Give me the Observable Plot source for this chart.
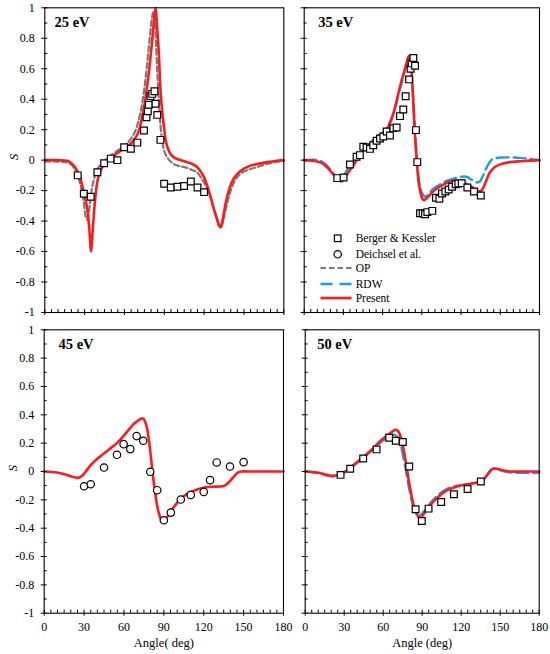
<!DOCTYPE html>
<html>
<head>
<meta charset="utf-8">
<script src="https://cdn.jsdelivr.net/npm/d3@7"></script>
<script src="https://cdn.jsdelivr.net/npm/@observablehq/plot@0.6"></script>
<style>
  body { margin: 0; background: white; }
  #wrap { position: relative; width: 550px; height: 654px; background: white; overflow: hidden; }
  #wrap svg.panel { position: absolute; }
</style>
</head>
<body>
<div id="wrap"></div>
<script>
// ---------- tick values ----------
const xMajor = [0, 30, 60, 90, 120, 150, 180];
const xMinor = [5,10,15,20,25,35,40,45,50,55,65,70,75,80,85,95,100,105,110,115,125,130,135,140,145,155,160,165,170,175];
const yMajor = [-1, -0.8, -0.6, -0.4, -0.2, 0, 0.2, 0.4, 0.6, 0.8, 1];
const yMinor = [-0.9, -0.7, -0.5, -0.3, -0.1, 0.1, 0.3, 0.5, 0.7, 0.9];

// ---------- 25 eV ----------
const present25 = [[0,0],[10,0],[17,-0.004],[20,-0.02],[23,-0.05],[26,-0.1],[28,-0.16],[30,-0.23],[32,-0.32],[33.5,-0.45],[34.9,-0.6],[36,-0.47],[37,-0.35],[38,-0.25],[39.4,-0.15],[41,-0.09],[43,-0.05],[45,-0.025],[47,-0.01],[50,0.015],[54.5,0.045],[58,0.067],[62,0.087],[66,0.12],[69.5,0.165],[72,0.23],[74.6,0.34],[76.5,0.45],[78.3,0.57],[80,0.71],[80.8,0.78],[82,0.9],[83.4,1.0],[84.5,0.88],[85.9,0.7],[87,0.48],[88.4,0.32],[90,0.2],[91,0.13],[93,0.07],[94.7,0.04],[97,0.02],[99.7,0.008],[103,-0.002],[107,-0.013],[111,-0.025],[114.7,-0.045],[117,-0.07],[119.8,-0.11],[122,-0.16],[124.8,-0.24],[127,-0.31],[129.8,-0.39],[131.2,-0.43],[132.3,-0.44],[133.5,-0.41],[134.8,-0.35],[136.5,-0.27],[138.6,-0.2],[141,-0.14],[145,-0.09],[150,-0.055],[155,-0.036],[160,-0.025],[167.5,-0.013],[175,-0.004],[180,0]];
const op25 = [[0,-0.008],[10,-0.01],[17,-0.015],[20,-0.03],[22,-0.05],[24.4,-0.09],[26.5,-0.15],[28.2,-0.22],[29.6,-0.29],[30.8,-0.37],[31.8,-0.39],[32.8,-0.36],[34.4,-0.26],[35.6,-0.18],[36.9,-0.13],[38.5,-0.08],[40.7,-0.045],[44.4,-0.01],[47,0.015],[54.5,0.06],[62,0.11],[67,0.17],[70,0.24],[72,0.31],[74,0.41],[75.8,0.53],[78.3,0.74],[80.8,0.94],[81.6,0.97],[82.5,0.93],[83.4,0.83],[84.6,0.6],[85.9,0.39],[87,0.24],[88.4,0.13],[90,0.06],[92,0.02],[97,-0.025],[102,-0.04],[107,-0.05],[111,-0.065],[114.7,-0.08],[118,-0.12],[122,-0.18],[125,-0.25],[127,-0.31],[129.5,-0.38],[131,-0.42],[132.8,-0.44],[134,-0.41],[136,-0.33],[138,-0.26],[140,-0.2],[142,-0.155],[145,-0.11],[150,-0.075],[155,-0.058],[160,-0.045],[167.5,-0.025],[175,-0.01],[180,-0.005]];
const berger25 = [[24.8,-0.1],[29.4,-0.22],[34.6,-0.24],[39.6,-0.08],[44.7,-0.02],[49.7,0.01],[54.7,0.0],[59.8,0.085],[64.8,0.075],[69.7,0.115],[74.7,0.195],[76.6,0.282],[77.6,0.321],[78.3,0.363],[79.6,0.419],[80.9,0.435],[82.6,0.452],[83.4,0.37],[84.7,0.297],[87.1,0.133],[89.9,-0.155],[94.9,-0.18],[99.9,-0.175],[104.9,-0.17],[110,-0.14],[115,-0.18],[120,-0.21]];

// ---------- 35 eV ----------
const present35 = [[0,0],[8,-0.005],[12.5,-0.015],[16,-0.035],[18.9,-0.06],[21.5,-0.085],[24,-0.11],[26.5,-0.13],[28.3,-0.14],[30.5,-0.125],[33,-0.09],[35.5,-0.06],[38,-0.03],[40.5,0.005],[43,0.04],[47,0.075],[50.8,0.105],[55,0.135],[58.5,0.16],[61,0.18],[63.6,0.21],[66,0.25],[68.7,0.32],[71,0.4],[73.8,0.5],[75.8,0.56],[77.6,0.61],[79,0.66],[80.2,0.685],[81.2,0.67],[82,0.61],[83,0.46],[84,0.28],[85.2,0.1],[86.5,-0.05],[87.5,-0.14],[88.6,-0.2],[89.8,-0.24],[91.1,-0.26],[92.5,-0.258],[94.2,-0.245],[96.5,-0.225],[99.3,-0.2],[104.4,-0.17],[109.5,-0.147],[114.6,-0.135],[119.7,-0.14],[124.8,-0.16],[129.9,-0.185],[132.5,-0.2],[134.5,-0.205],[136,-0.195],[137.6,-0.17],[139.5,-0.13],[141.4,-0.09],[143.5,-0.065],[145.3,-0.048],[150,-0.028],[153,-0.02],[160,-0.01],[165.7,-0.007],[172,-0.003],[180,0]];
const rdw35 = [[0,0],[8,0.003],[12.5,-0.005],[16,-0.025],[20,-0.06],[23.5,-0.1],[26.5,-0.13],[28.5,-0.125],[31.7,-0.08],[36,-0.025],[40.6,0.017],[45,0.06],[50.8,0.115],[55,0.15],[61,0.19],[65,0.24],[68.7,0.32],[72,0.43],[75,0.52],[77,0.6],[79,0.66],[80.2,0.68],[81.5,0.63],[82.7,0.5],[84,0.32],[85.3,0.13],[86.5,-0.02],[87.8,-0.135],[89,-0.19],[90.4,-0.22],[92,-0.237],[93,-0.24],[95,-0.225],[96.8,-0.205],[99,-0.185],[101.9,-0.17],[105.5,-0.152],[109.5,-0.135],[113,-0.125],[117.2,-0.115],[122.3,-0.107],[125,-0.112],[127.4,-0.125],[130,-0.138],[132.5,-0.147],[134.5,-0.14],[136.3,-0.11],[138.2,-0.075],[140.2,-0.037],[142,-0.012],[144,0.007],[147,0.014],[150.4,0.017],[155,0.018],[160.6,0.017],[165,0.015],[170.8,0.01],[175,0.005],[180,0]];
const berger35 = [[25.3,-0.118],[30.1,-0.114],[35.0,-0.028],[40.1,0.022],[42.6,0.033],[45.2,0.088],[47.7,0.083],[50.3,0.074],[52.8,0.098],[55.4,0.127],[58.0,0.142],[60.5,0.155],[63.1,0.188],[65.6,0.162],[68.2,0.21],[70.7,0.214],[73.3,0.289],[75.8,0.333],[77.6,0.42],[80.2,0.53],[81.4,0.6],[82.2,0.635],[83.5,0.67],[84.8,0.62],[85.5,0.197],[86.5,-0.013],[88.6,-0.348],[90.6,-0.348],[92.4,-0.355],[94.2,-0.341],[98.0,-0.333],[100.8,-0.247],[103.4,-0.254],[105.4,-0.219],[108.0,-0.206],[110.5,-0.193],[113.1,-0.175],[115.9,-0.158],[117.9,-0.153],[120.5,-0.151],[124.8,-0.179],[129.9,-0.206],[135.1,-0.232]];

// ---------- 45 eV ----------
const present45 = [[0,0],[9.75,-0.007],[17.25,-0.024],[21,-0.037],[23.5,-0.042],[25.5,-0.045],[28.5,-0.03],[30.5,-0.01],[32.5,0.015],[35,0.045],[37.5,0.07],[40,0.09],[42.5,0.11],[46,0.135],[50,0.165],[54.75,0.2],[57.25,0.225],[60,0.255],[62.25,0.28],[65,0.31],[67.25,0.335],[70,0.355],[72.25,0.37],[74.25,0.375],[75.5,0.36],[77.25,0.31],[78.5,0.24],[79.75,0.146],[81,0.04],[82.25,-0.066],[83.5,-0.15],[84.75,-0.23],[86,-0.285],[87.25,-0.325],[88.5,-0.345],[89.75,-0.35],[91,-0.34],[92.25,-0.325],[94.5,-0.29],[97.25,-0.255],[102.25,-0.196],[107.25,-0.16],[112.25,-0.137],[117.25,-0.12],[124.75,-0.108],[132.25,-0.106],[135,-0.102],[137.25,-0.09],[139,-0.075],[141,-0.054],[143,-0.032],[144.75,-0.014],[146.5,-0.004],[148.5,0],[157,0],[170,0],[180,0]];
const deichsel45 = [[30,-0.104],[35,-0.09],[45,0.028],[54.75,0.118],[59.75,0.193],[64.75,0.158],[69.5,0.25],[74.5,0.217],[79.75,-0.002],[85,-0.132],[90,-0.344],[95.25,-0.29],[102.75,-0.198],[110.25,-0.165],[120,-0.144],[124.75,-0.061],[129.75,0.064],[139.75,0.035],[150,0.066]];

// ---------- 50 eV ----------
const present50 = [[0,0],[9.2,-0.007],[16.9,-0.024],[22,-0.03],[27.2,-0.019],[30,-0.005],[34.9,0.028],[42.6,0.087],[50.3,0.146],[58,0.217],[64.4,0.264],[67.5,0.285],[69.5,0.295],[71,0.29],[72,0.276],[73.5,0.245],[74.6,0.205],[76,0.14],[77.2,0.075],[78.5,0.005],[79.7,-0.066],[81,-0.13],[82.3,-0.196],[83.5,-0.24],[84.9,-0.278],[86.2,-0.305],[87.4,-0.325],[88.5,-0.33],[90,-0.314],[91.5,-0.295],[93.8,-0.267],[96,-0.238],[99,-0.208],[104.1,-0.165],[109.2,-0.132],[116.9,-0.106],[124.6,-0.09],[132.3,-0.078],[135,-0.07],[137.4,-0.054],[139.5,-0.03],[141.3,-0.007],[143.2,0.012],[145.1,0.021],[147.5,0.019],[150.3,0.012],[154,0.005],[158,0],[170,0],[180,0]];
const rdw50 = [[0,0],[9.2,-0.01],[16.9,-0.03],[22,-0.035],[27.2,-0.022],[30,-0.008],[34.9,0.024],[42.6,0.082],[50.3,0.14],[58,0.205],[62,0.235],[65.5,0.255],[67.5,0.26],[69.5,0.255],[71,0.24],[72.5,0.215],[74,0.17],[75.5,0.1],[77,0.03],[78.5,-0.05],[80,-0.12],[81.5,-0.19],[83,-0.245],[84.5,-0.28],[86,-0.305],[87.5,-0.315],[89,-0.305],[91,-0.285],[93.8,-0.255],[96,-0.225],[99,-0.195],[104.1,-0.152],[109.2,-0.122],[116.9,-0.1],[124.6,-0.088],[132.3,-0.078],[135,-0.07],[137.4,-0.055],[139.5,-0.032],[141.3,-0.01],[143.2,0.01],[145.1,0.02],[147.5,0.017],[150.3,0.008],[154,-0.002],[160,-0.008],[170,-0.01],[180,-0.01]];
const berger50 = [[27.2,-0.024],[34.6,0.019],[44.6,0.092],[54.9,0.156],[64.6,0.238],[69.7,0.217],[75.1,0.208],[80,0.035],[84.9,-0.267],[89.7,-0.349],[94.9,-0.262],[104.6,-0.215],[114.4,-0.16],[124.9,-0.123],[135.1,-0.071]];

// ---------- legend entries ----------
const legendLabels = ["Berger & Kessler", "Deichsel et al.", "OP", "RDW", "Present"];

// ---------- styles ----------
const RED = "#ff1a1a", GRAY = "#7a7a7a", BLUE = "#1a9cf0";
const FONT = "'Liberation Serif', 'DejaVu Serif', serif";

const redLine = d => Plot.line(d, {x: p => p[0], y: p => p[1], stroke: RED, strokeWidth: 2.6, curve: "catmull-rom"});
const grayLine = d => Plot.line(d, {x: p => p[0], y: p => p[1], stroke: GRAY, strokeWidth: 2.2, strokeDasharray: "5.5,3", curve: "catmull-rom"});
const blueLine = d => Plot.line(d, {x: p => p[0], y: p => p[1], stroke: BLUE, strokeWidth: 2.4, strokeDasharray: "12,5", curve: "catmull-rom"});
const squares = d => Plot.dot(d, {x: p => p[0], y: p => p[1], symbol: "square", r: 3.8, stroke: "black", strokeWidth: 1.2, fill: "white"});
const circles = d => Plot.dot(d, {x: p => p[0], y: p => p[1], symbol: "circle", r: 3.7, stroke: "black", strokeWidth: 1.2, fill: "white"});

function panel(o) {
  const fw = o.width - o.marginLeft - o.marginRight;
  const fh = o.height - o.marginTop - o.marginBottom;
  const ux = 180 / fw;   // degrees per pixel
  const uy = 2 / fh;     // S units per pixel
  const marks = [
    ...o.marks,
    Plot.frame({stroke: "black", strokeWidth: 1.1}),
    // x ticks: major cross the bottom edge, minor point inwards
    Plot.ruleX(xMajor, {x: d => d, y1: () => -1 - 3 * uy, y2: () => -1 + 3 * uy, stroke: "black", strokeWidth: 1}),
    Plot.ruleX(xMinor, {x: d => d, y1: () => -1, y2: () => -1 + 3 * uy, stroke: "black", strokeWidth: 1}),
    // y ticks
    Plot.ruleY(yMajor, {y: d => d, x1: () => -3 * ux, x2: () => 3 * ux, stroke: "black", strokeWidth: 1}),
    Plot.ruleY(yMinor, {y: d => d, x1: () => 0, x2: () => 3 * ux, stroke: "black", strokeWidth: 1}),
    Plot.text([o.label], {text: d => d, frameAnchor: "top-left", dx: o.labelDx, dy: 15, textAnchor: "start", lineAnchor: "middle", fontWeight: "bold", fontSize: 14.5, fill: "black"})
  ];
  if (o.yLabels) {
    marks.push(Plot.axisY({ticks: yMajor, tickSize: 0, tickPadding: 10, tickFormat: d => String(d), fontSize: 12}));
    marks.push(Plot.text(["S"], {text: d => d, frameAnchor: "left", dx: -31, rotate: -90, fontStyle: "italic", fontSize: 13, lineAnchor: "middle"}));
  }
  if (o.xTitle) {
    marks.push(Plot.axisX({ticks: xMajor, tickSize: 0, tickPadding: 9, tickFormat: d => String(d), fontSize: 12}));
    marks.push(Plot.text([o.xTitle], {text: d => d, frameAnchor: "bottom", dy: 30, lineAnchor: "middle", fontSize: 12.5}));
  }
  const svg = Plot.plot({
    width: o.width, height: o.height,
    marginLeft: o.marginLeft, marginRight: o.marginRight, marginTop: o.marginTop, marginBottom: o.marginBottom,
    x: {domain: [0, 180], axis: null},
    y: {domain: [-1, 1], axis: null},
    style: {fontFamily: FONT, fontSize: "12px", background: "transparent", color: "black", overflow: "visible"},
    marks
  });
  svg.classList.add("panel");
  svg.style.left = o.left + "px";
  svg.style.top = o.top + "px";
  return svg;
}

const wrap = document.getElementById("wrap");

wrap.appendChild(panel({
  left: 0, top: 0, width: 290, height: 322,
  marginLeft: 44.3, marginRight: 6.7, marginTop: 7.3, marginBottom: 10,
  label: "25 eV", labelDx: 9.7, yLabels: true,
  marks: [grayLine(op25), redLine(present25), squares(berger25)]
}));
wrap.appendChild(panel({
  left: 290, top: 0, width: 260, height: 322,
  marginLeft: 13.7, marginRight: 11, marginTop: 7.3, marginBottom: 10,
  label: "35 eV", labelDx: 14,
  marks: [blueLine(rdw35), redLine(present35), squares(berger35)]
}));
wrap.appendChild(panel({
  left: 0, top: 322, width: 290, height: 332,
  marginLeft: 43.7, marginRight: 7, marginTop: 7.3, marginBottom: 41.3,
  label: "45 eV", labelDx: 14.3, yLabels: true, xTitle: "Angle( deg)",
  marks: [redLine(present45), circles(deichsel45)]
}));
wrap.appendChild(panel({
  left: 290, top: 322, width: 260, height: 332,
  marginLeft: 14.7, marginRight: 11.3, marginTop: 7.3, marginBottom: 41.3,
  label: "50 eV", labelDx: 12, xTitle: "Angle (deg)",
  marks: [blueLine(rdw50), redLine(present50), squares(berger50)]
}));

// ---------- legend (inside the 35 eV panel) ----------
const ns = "http://www.w3.org/2000/svg";
const lg = document.createElementNS(ns, "svg");
lg.setAttribute("width", 550); lg.setAttribute("height", 654);
lg.style.position = "absolute"; lg.style.left = "0px"; lg.style.top = "0px";
lg.style.fontFamily = FONT; lg.style.fontSize = "11.5px";
const rows = [238.3, 254.3, 268, 284, 298];
function el(tag, attrs) { const e = document.createElementNS(ns, tag); for (const k in attrs) e.setAttribute(k, attrs[k]); lg.appendChild(e); return e; }
el("rect", {x: 337.7 - 3.3, y: rows[0] - 3.3, width: 6.6, height: 6.6, fill: "white", stroke: "black", "stroke-width": 1.2});
el("circle", {cx: 337.7, cy: rows[1], r: 3.7, fill: "white", stroke: "black", "stroke-width": 1.2});
el("line", {x1: 320.5, x2: 351.5, y1: rows[2], y2: rows[2], stroke: GRAY, "stroke-width": 2.2, "stroke-dasharray": "5.5,3"});
el("line", {x1: 320.5, x2: 351.5, y1: rows[3], y2: rows[3], stroke: BLUE, "stroke-width": 2.4, "stroke-dasharray": "12,7"});
el("line", {x1: 320.5, x2: 351.5, y1: rows[4], y2: rows[4], stroke: RED, "stroke-width": 2.6});
legendLabels.forEach((t, i) => {
  const tx = el("text", {x: 355.7, y: rows[i], "dominant-baseline": "central", fill: "black"});
  tx.textContent = t;
});
wrap.appendChild(lg);
</script>
</body>
</html>
